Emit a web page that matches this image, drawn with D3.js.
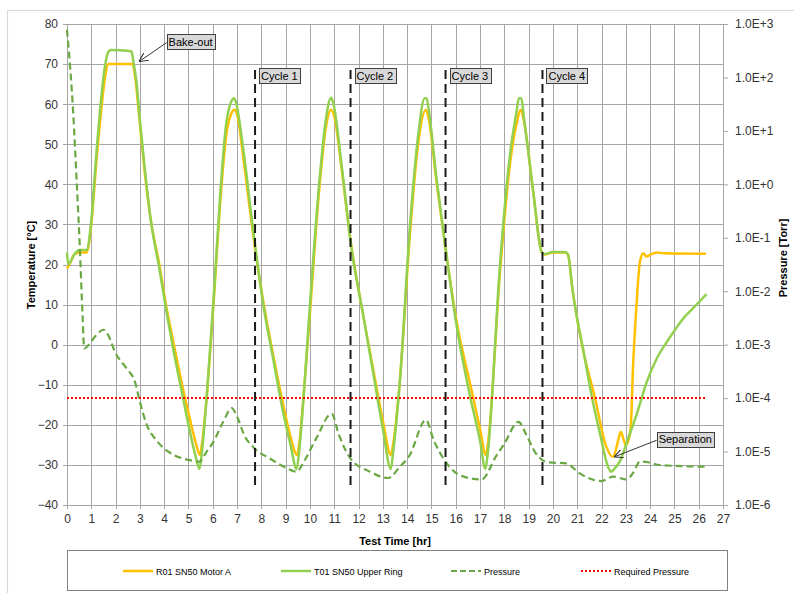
<!DOCTYPE html>
<html><head><meta charset="utf-8">
<script src="https://cdn.jsdelivr.net/npm/d3@7"></script>
<style>
body{margin:0;background:#fff;}
text{font-family:"Liberation Sans",Arial,sans-serif;}
</style>
</head><body>
<svg id="chart" width="794" height="593"></svg>
<script>
// ---------- DATA ----------
const seriesNames = ["R01 SN50 Motor A", "T01 SN50 Upper Ring", "Pressure", "Required Pressure"];

const motorTime = [0,0.1,0.3,0.5,0.8,1.0,1.2,1.4,1.55,1.7,2.7,2.8,3.0,3.2,3.45,3.8,4.1,4.4,4.7,5.0,5.3,5.47,5.55,5.75,6.04,6.3,6.55,6.75,6.9,7.0,7.25,7.5,7.74,8.1,8.5,8.9,9.2,9.47,9.55,9.75,10.0,10.4,10.65,10.87,11.0,11.3,11.67,12.2,12.6,13.0,13.33,13.42,13.7,14.12,14.45,14.77,14.9,15.2,15.58,16.03,16.6,17.0,17.24,17.32,17.82,18.23,18.5,18.67,18.8,19.19,19.53,19.65,20.0,20.5,20.62,20.8,20.97,21.24,21.72,22.2,22.47,22.62,22.72,22.8,22.9,23.0,23.1,23.2,23.3,23.44,23.58,23.72,23.85,23.99,24.27,24.6,26.3];
const motorTemp = [19,20,22.5,23,23,30,45,58,66,70,70,67,55,43,31,20,9,0,-9,-17,-24.5,-27.5,-25,-13,11,35,52,57.5,58.6,57.5,47,35,24,10,-3,-15,-23,-27.5,-25,-12,8,40,54,58.6,57,44,26,7,-6,-19,-27.5,-25,-9,28,50,58.6,56,41,24,6,-10,-21,-27.5,-25,18,45,55,58.6,56,38,23.2,22.5,23,23,22.5,14,7.4,-1.3,-13,-25.5,-28,-25.5,-23,-21.8,-23.5,-25,-24,-20.9,-5.1,9.9,20.7,22.8,22,22.4,23,22.8,22.7];

const ringTime = [0,0.05,0.3,0.5,0.8,1.0,1.2,1.4,1.55,1.7,1.8,2.5,2.65,2.75,2.85,3.0,3.2,3.45,3.8,4.1,4.4,4.7,5.0,5.3,5.45,5.55,5.75,6.04,6.3,6.55,6.75,6.87,6.95,7.25,7.67,8.08,8.5,8.9,9.2,9.45,9.55,9.75,10.0,10.41,10.65,10.87,10.95,11.3,11.67,12.19,12.6,13.0,13.33,13.42,13.7,14.12,14.45,14.72,14.8,14.9,15.2,15.58,16.03,16.58,17.0,17.22,17.32,17.82,18.23,18.5,18.6,18.7,18.8,19.19,19.53,19.65,20.0,20.5,20.62,20.8,20.97,21.24,21.6,21.93,22.27,22.4,22.5,22.78,23.05,23.44,23.85,24.27,24.68,25.07,25.4,25.77,26.32];
const ringTemp = [23,20,22.5,23.6,23.6,31,47,61,69,73,73.5,73.3,73.2,70,66,56,44,31,19,8,-2,-11,-20,-28,-31,-27,-13,12,37,55,60.5,61.5,60.5,49,28.2,9.9,-4,-17,-25,-31,-27,-12,10,42.3,56,61.6,60.5,45,25.7,7.4,-7,-21,-31,-27,-9.2,30,52,61.5,61.5,58,42,24.1,4.9,-12.6,-24,-31,-27,19.9,47.3,58,61.5,61.5,57,38.2,23.2,22.6,23.1,23.1,22.5,14,7.4,-1,-13,-22,-30.5,-31.7,-31.2,-28.8,-24.2,-17.5,-9.5,-3.5,0.6,4.1,6.8,9.1,12.6];

const pressureTime = [0,0.26,0.4,0.53,0.64,0.71,0.9,1.2,1.5,1.7,1.97,2.45,2.8,3.0,3.28,3.69,4.24,5.06,5.45,5.75,6.02,6.43,6.78,7.0,7.3,7.67,8.35,9.0,9.45,9.8,10.27,10.89,11.2,11.67,12.47,13.22,13.7,14.1,14.77,15.1,15.58,16.17,17.06,17.68,18.0,18.58,18.92,19.25,19.57,19.8,20.56,21.1,22.0,22.48,23.03,23.3,23.58,23.92,24.4,26.32];
const pressureValue = [7.8e2,2.0e1,1.1e0,6.3e-2,3.5e-3,8.5e-4,1.0e-3,1.5e-3,1.9e-3,1.5e-3,7.4e-4,3.6e-4,2.0e-4,8.5e-5,3.2e-5,1.6e-5,9.5e-6,6.9e-6,6.5e-6,1.0e-5,1.5e-5,3.6e-5,6.5e-5,4.5e-5,2.0e-5,1.2e-5,7.4e-6,5.0e-6,4.2e-6,7.1e-6,1.8e-5,5.1e-5,2.0e-5,7.4e-6,4.2e-6,3.2e-6,5.2e-6,8.5e-6,3.9e-5,1.6e-5,6.5e-6,3.6e-6,3.0e-6,8.5e-6,1.4e-5,3.6e-5,2.0e-5,1.0e-5,6.9e-6,6.3e-6,6.0e-6,3.9e-6,2.8e-6,3.4e-6,3.0e-6,4.0e-6,6.5e-6,6.3e-6,5.6e-6,5.2e-6];

const requiredPressure = 1e-4;
const requiredTimeRange = [0, 26.3];

const cycleTimes = [7.74, 11.67, 15.58, 19.57];
const cycleLabels = ["Cycle 1", "Cycle 2", "Cycle 3", "Cycle 4"];
const cycleTempSpan = [68.5, -36];

const bakeLabel = "Bake-out";
const bakeLabelAt = [4.1, 75.6];     // [hr, °C] of box left / middle
const bakeArrowTo = [2.96, 70.6];
const sepLabel = "Separation";
const sepLabelAt = [24.27, -23.6];
const sepArrowTo = [22.52, -28.0];

const timeTicks = [0,1,2,3,4,5,6,7,8,9,10,11,12,13,14,15,16,17,18,19,20,21,22,23,24,25,26,27];
const tempTicks = [-40,-30,-20,-10,0,10,20,30,40,50,60,70,80];
const pressureTicks = [1e-6,1e-5,1e-4,1e-3,1e-2,1e-1,1e0,1e1,1e2,1e3];

// ---------- LAYOUT ----------
const svg = d3.select("#chart");
const L = 67, R = 723, T = 24, B = 505;
const COL = {motor:"#FFC000", ring:"#92D050", press:"#6AA843", req:"#FF0000", grid:"#A6A6A6", text:"#333"};

svg.append("rect").attr("x",7.5).attr("y",10.5).attr("width",800).attr("height",600)
  .attr("fill","#fff").attr("stroke","#D9D9D9").attr("stroke-width",1.2);

const x = d3.scaleLinear().domain([0,27]).range([L,R]);
const yT = d3.scaleLinear().domain([-40,80]).range([B,T]);
const yP = d3.scaleLog().domain([1e-6,1e3]).range([B,T]);

// gridlines
const grid = svg.append("g");
grid.selectAll(".h").data(tempTicks).join("line")
  .attr("x1",L-4).attr("x2",R).attr("y1",d=>Math.round(yT(d))+0.5).attr("y2",d=>Math.round(yT(d))+0.5)
  .attr("stroke",COL.grid).attr("stroke-width",1);
grid.selectAll(".v").data(timeTicks).join("line")
  .attr("y1",T).attr("y2",B+4).attr("x1",d=>Math.round(x(d))+0.5).attr("x2",d=>Math.round(x(d))+0.5)
  .attr("stroke",COL.grid).attr("stroke-width",1);

// axes
const fmtP = p => { const e = Math.round(Math.log10(p)); return "1.0E" + (e>=0?"+":"-") + Math.abs(e); };
const axL = svg.append("g").attr("transform",`translate(${L},0)`)
  .call(d3.axisLeft(yT).tickValues(tempTicks).tickSize(0).tickPadding(9));
const axB = svg.append("g").attr("transform",`translate(0,${B})`)
  .call(d3.axisBottom(x).tickValues(timeTicks).tickSize(0).tickPadding(9));
const axR = svg.append("g").attr("transform",`translate(${R},0)`)
  .call(d3.axisRight(yP).tickValues(pressureTicks).tickFormat(fmtP).tickSize(5).tickPadding(7));
[axL,axB,axR].forEach(a=>{
  a.select(".domain").attr("stroke",COL.grid);
  a.selectAll(".tick line").attr("stroke",COL.grid);
  a.selectAll("text").attr("font-size",12).attr("fill",COL.text).attr("font-family","Liberation Sans, Arial, sans-serif");
});
axL.select(".domain").remove();
axB.select(".domain").remove();

// axis titles
svg.append("text").attr("transform","translate(35,265) rotate(-90)").attr("text-anchor","middle")
  .attr("font-size",11).attr("font-weight","bold").attr("fill","#000").text("Temperature [°C]");
svg.append("text").attr("transform","translate(787,258) rotate(-90)").attr("text-anchor","middle")
  .attr("font-size",11).attr("font-weight","bold").attr("fill","#000").text("Pressure [Torr]");
svg.append("text").attr("x",395).attr("y",545).attr("text-anchor","middle")
  .attr("font-size",11).attr("font-weight","bold").attr("fill","#000").text("Test Time [hr]");

// series
const lineT = d3.line().x(d=>x(d[0])).y(d=>yT(d[1])).curve(d3.curveMonotoneX);
const lineP = d3.line().x(d=>x(d[0])).y(d=>yP(d[1])).curve(d3.curveMonotoneX);
const motor = motorTime.map((t,i)=>[t,motorTemp[i]]);
const ring = ringTime.map((t,i)=>[t,ringTemp[i]]);
const press = pressureTime.map((t,i)=>[t,pressureValue[i]]);

svg.append("path").attr("d",lineT(motor)).attr("fill","none").attr("stroke",COL.motor)
  .attr("stroke-width",2.5).attr("stroke-linejoin","round");
svg.append("path").attr("d",lineT(ring)).attr("fill","none").attr("stroke",COL.ring)
  .attr("stroke-width",2.5).attr("stroke-linejoin","round");
svg.append("path").attr("d",lineP(press)).attr("fill","none").attr("stroke",COL.press)
  .attr("stroke-width",2.2).attr("stroke-dasharray","7,4");
svg.append("line").attr("x1",x(requiredTimeRange[0])).attr("x2",x(requiredTimeRange[1]))
  .attr("y1",yP(requiredPressure)).attr("y2",yP(requiredPressure))
  .attr("stroke",COL.req).attr("stroke-width",2).attr("stroke-dasharray","2,2");

// cycle markers
const defs = svg.append("defs");
defs.append("marker").attr("id","arr").attr("viewBox","0 0 10 10").attr("refX",10).attr("refY",5)
  .attr("markerWidth",9).attr("markerHeight",9).attr("orient","auto").attr("markerUnits","userSpaceOnUse")
  .append("path").attr("d","M0,0 L10,5 L0,10").attr("fill","none").attr("stroke","#333").attr("stroke-width",1.2);

function labelBox(px, py, txt){
  const g = svg.append("g");
  const t = g.append("text").attr("x",px+2).attr("y",py+4).attr("font-size",11).attr("fill","#000").text(txt);
  const bb = t.node().getBBox();
  g.insert("rect","text").attr("x",Math.round(px)+0.5).attr("y",Math.round(py-7.5)+0.5)
    .attr("width",Math.round(bb.width+4)).attr("height",15)
    .attr("fill","#D9D9D9").attr("stroke","#404040").attr("stroke-width",1);
  return bb;
}

cycleTimes.forEach((c,i)=>{
  svg.append("line").attr("x1",x(c)).attr("x2",x(c)).attr("y1",yT(cycleTempSpan[0])).attr("y2",yT(cycleTempSpan[1]))
    .attr("stroke","#1a1a1a").attr("stroke-width",2).attr("stroke-dasharray","9,5");
  labelBox(x(c)+4, yT(cycleTempSpan[0])+5.5, cycleLabels[i]);
});

// annotations
svg.append("line").attr("x1",x(bakeLabelAt[0])).attr("y1",yT(bakeLabelAt[1])+1)
  .attr("x2",x(bakeArrowTo[0])).attr("y2",yT(bakeArrowTo[1]))
  .attr("stroke","#333").attr("stroke-width",1).attr("marker-end","url(#arr)");
labelBox(x(bakeLabelAt[0]), yT(bakeLabelAt[1]), bakeLabel);
svg.append("line").attr("x1",x(sepLabelAt[0])).attr("y1",yT(sepLabelAt[1])+1)
  .attr("x2",x(sepArrowTo[0])).attr("y2",yT(sepArrowTo[1]))
  .attr("stroke","#333").attr("stroke-width",1).attr("marker-end","url(#arr)");
labelBox(x(sepLabelAt[0]), yT(sepLabelAt[1]), sepLabel);

// legend
const lg = svg.append("g");
lg.append("rect").attr("x",67.5).attr("y",550.5).attr("width",660).attr("height",40)
  .attr("fill","#fff").attr("stroke","#808080").attr("stroke-width",1);
const legendX = [123, 281, 451, 581];
const legendStyle = [
  {c:COL.motor, w:2.5, d:null},
  {c:COL.ring, w:2.5, d:null},
  {c:COL.press, w:2.2, d:"6,3"},
  {c:COL.req, w:2, d:"2,2"}
];
seriesNames.forEach((n,i)=>{
  const s = legendStyle[i];
  const l = lg.append("line").attr("x1",legendX[i]).attr("x2",legendX[i]+30).attr("y1",571).attr("y2",571)
    .attr("stroke",s.c).attr("stroke-width",s.w);
  if (s.d) l.attr("stroke-dasharray",s.d);
  lg.append("text").attr("x",legendX[i]+33).attr("y",574.5).attr("font-size",9).attr("fill","#000").text(n);
});
</script>
</body></html>
